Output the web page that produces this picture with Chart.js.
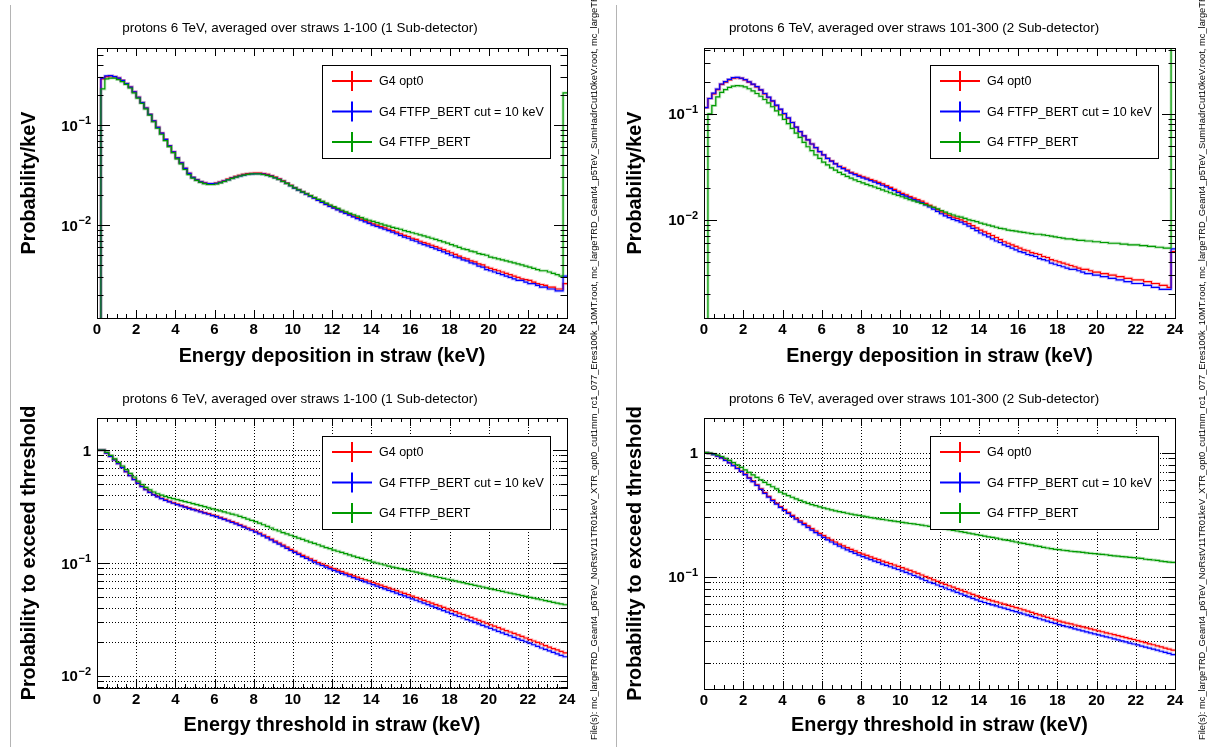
<!DOCTYPE html>
<html>
<head>
<meta charset="utf-8">
<script src="https://cdn.jsdelivr.net/npm/chart.js@4.4.0/dist/chart.umd.min.js"></script>
<style>
  body { margin: 0; background: #fff; width: 1224px; height: 747px; position: relative; overflow: hidden; }
  canvas { position: absolute; }
  .files { position: absolute; top: 740px; transform-origin: 0 0; transform: rotate(-90deg);
           white-space: nowrap; font: 9.3px "Liberation Sans", Arial, sans-serif; line-height: 9px; color: #000; }
  .padline { position: absolute; top: 5px; width: 1px; height: 742px; background: #b4b4b4; }
</style>
</head>
<body>
<div class="padline" style="left:10px"></div>
<div class="padline" style="left:616px"></div>
<canvas id="tl" width="606" height="373" style="left:0;top:0"></canvas>
<canvas id="tr" width="618" height="373" style="left:606px;top:0"></canvas>
<canvas id="bl" width="606" height="374" style="left:0;top:373px"></canvas>
<canvas id="br" width="618" height="374" style="left:606px;top:373px"></canvas>
<div class="files" style="left:590px">File(s): mc_largeTRD_Geant4_p6TeV_NoRstV11TR01keV_XTR_opt0_cut1mm_rc1_077_Eres100k_10MT.root, mc_largeTRD_Geant4_p5TeV_SumHadrCut10keV.root, mc_largeTRD_Geant4_p5TeV.root</div>
<div class="files" style="left:1198px">File(s): mc_largeTRD_Geant4_p6TeV_NoRstV11TR01keV_XTR_opt0_cut1mm_rc1_077_Eres100k_10MT.root, mc_largeTRD_Geant4_p5TeV_SumHadrCut10keV.root, mc_largeTRD_Geant4_p5TeV.root</div>
<script>
// 120 bins of 0.2 keV from 0 to 24 keV
const xMin = 0, xMax = 24, binWidth = 0.2;
const xTickValues = [0, 2, 4, 6, 8, 10, 12, 14, 16, 18, 20, 22, 24];
const legendNames = ['G4 opt0', 'G4 FTFP_BERT cut = 10 keV', 'G4 FTFP_BERT'];
const seriesColors = ['#ff0000', '#0000ff', '#009a00'];
const bandColors = ['rgba(255,0,0,0.22)', 'rgba(0,0,255,0.22)', 'rgba(0,154,0,0.22)'];

// ---- energy deposition, straws 1-100 ----
const depoOpt0_1 = [
  1e-5, 0.29, 0.305, 0.31, 0.305,  0.295, 0.28, 0.26, 0.24, 0.215,
  0.19, 0.168, 0.148, 0.128, 0.11,  0.095, 0.083, 0.072, 0.062, 0.054,
  0.047, 0.042, 0.037, 0.033, 0.030,  0.0285, 0.0272, 0.0265, 0.026, 0.026,
  0.0263, 0.027, 0.0278, 0.0288, 0.0298,  0.0307, 0.0315, 0.0322, 0.0327, 0.033,
  0.0332, 0.0332, 0.0328, 0.0322, 0.0313,  0.0302, 0.029, 0.0277, 0.0263, 0.025,
  0.0237, 0.0226, 0.0216, 0.0206, 0.0197,  0.0188, 0.0179, 0.0171, 0.0163, 0.0156,
  0.015, 0.0144, 0.0138, 0.0133, 0.0128,  0.0123, 0.0119, 0.0115, 0.0111, 0.0107,
  0.0103, 0.0100, 0.0097, 0.0094, 0.0091,  0.0088, 0.0085, 0.0082, 0.0079, 0.0077,
  0.0074, 0.0072, 0.0069, 0.0067, 0.0065,  0.0063, 0.0061, 0.0059, 0.0057, 0.0055,
  0.0053, 0.0051, 0.0049, 0.0047, 0.0046,  0.0044, 0.0043, 0.0041, 0.0040, 0.0038,
  0.0037, 0.0036, 0.0035, 0.0034, 0.0033,  0.0032, 0.0031, 0.0030, 0.0029, 0.00285,
  0.0028, 0.0027, 0.0026, 0.00255, 0.0025,  0.0024, 0.0024, 0.0023, 0.0023, 0.0026
];
const depoCut10_1 = [
  1e-5, 0.295, 0.31, 0.312, 0.305,  0.295, 0.28, 0.26, 0.24, 0.215,
  0.19, 0.168, 0.148, 0.128, 0.11,  0.095, 0.083, 0.072, 0.062, 0.054,
  0.047, 0.042, 0.037, 0.033, 0.030,  0.0284, 0.0271, 0.0264, 0.026, 0.026,
  0.0262, 0.0268, 0.0276, 0.0285, 0.0295,  0.0303, 0.031, 0.0317, 0.0322, 0.0325,
  0.0327, 0.0327, 0.0323, 0.0317, 0.0309,  0.0298, 0.0287, 0.0274, 0.0261, 0.0248,
  0.0235, 0.0224, 0.0214, 0.0204, 0.0195,  0.0186, 0.0177, 0.0169, 0.0161, 0.0154,
  0.0148, 0.0142, 0.0136, 0.0131, 0.0126,  0.0121, 0.0116, 0.0112, 0.0108, 0.0104,
  0.0100, 0.0097, 0.0094, 0.0091, 0.0088,  0.0085, 0.0082, 0.0079, 0.0076, 0.0074,
  0.0071, 0.0069, 0.0066, 0.0064, 0.0062,  0.0060, 0.0058, 0.0056, 0.0054, 0.0052,
  0.0050, 0.0048, 0.0047, 0.0045, 0.0044,  0.0042, 0.0041, 0.0039, 0.0038, 0.0036,
  0.0035, 0.0034, 0.0033, 0.0032, 0.0031,  0.0030, 0.0029, 0.0028, 0.0028, 0.0027,
  0.0026, 0.0026, 0.0025, 0.0024, 0.0024,  0.0023, 0.0023, 0.0022, 0.0022, 0.0031
];
const depoFtfp_1 = [
  1e-5, 0.23, 0.29, 0.295, 0.295,  0.285, 0.272, 0.255, 0.235, 0.21,
  0.186, 0.165, 0.145, 0.126, 0.108,  0.093, 0.081, 0.07, 0.061, 0.053,
  0.046, 0.041, 0.036, 0.032, 0.0295,  0.028, 0.0268, 0.026, 0.0255, 0.0255,
  0.0258, 0.0265, 0.0273, 0.0283, 0.0293,  0.0302, 0.031, 0.0317, 0.0322, 0.0325,
  0.0326, 0.0325, 0.0321, 0.0315, 0.0307,  0.0297, 0.0286, 0.0274, 0.0261, 0.0248,
  0.0236, 0.0225, 0.0215, 0.0206, 0.0197,  0.0189, 0.0181, 0.0173, 0.0166, 0.0159,
  0.0153, 0.0147, 0.0141, 0.0136, 0.0131,  0.0127, 0.0123, 0.0119, 0.0115, 0.0112,
  0.0109, 0.0106, 0.0103, 0.0100, 0.0098,  0.0095, 0.0093, 0.0091, 0.0088, 0.0086,
  0.0084, 0.0082, 0.0080, 0.0078, 0.0076,  0.0074, 0.0072, 0.0070, 0.0068, 0.0066,
  0.0064, 0.0062, 0.0060, 0.0058, 0.0057,  0.0055, 0.0054, 0.0052, 0.0051, 0.0050,
  0.0048, 0.0047, 0.0046, 0.0045, 0.0044,  0.0043, 0.0042, 0.0041, 0.0040, 0.0039,
  0.0038, 0.0037, 0.0036, 0.0035, 0.0035,  0.0034, 0.0033, 0.0032, 0.0031, 0.21
];

// ---- energy deposition, straws 101-300 ----
const depoOpt0_2 = [
  0.115, 0.14, 0.155, 0.17, 0.19,  0.20, 0.21, 0.218, 0.22, 0.217,
  0.21, 0.20, 0.19, 0.18, 0.168,  0.155, 0.143, 0.132, 0.12, 0.11,
  0.10, 0.091, 0.083, 0.075, 0.068,  0.062, 0.057, 0.052, 0.048, 0.044,
  0.041, 0.038, 0.036, 0.034, 0.032,  0.031, 0.0295, 0.028, 0.0272, 0.0263,
  0.0255, 0.0248, 0.024, 0.0233, 0.0226,  0.0218, 0.021, 0.0202, 0.0194, 0.0186,
  0.0178, 0.0172, 0.0166, 0.0160, 0.0155,  0.0150, 0.0143, 0.0137, 0.0131, 0.0125,
  0.0119, 0.0114, 0.0110, 0.0106, 0.0103,  0.0100, 0.0096, 0.0092, 0.0088, 0.0084,
  0.0080, 0.0077, 0.0074, 0.0071, 0.0068,  0.0065, 0.0062, 0.0060, 0.0058, 0.0056,
  0.0054, 0.0052, 0.0051, 0.0049, 0.0048,  0.0047, 0.0045, 0.0044, 0.0042, 0.0041,
  0.0040, 0.0039, 0.0038, 0.0037, 0.0036,  0.0035, 0.0034, 0.0034, 0.0033, 0.0032,
  0.0032, 0.0031, 0.0031, 0.0030, 0.0030,  0.0029, 0.0029, 0.0028, 0.0028, 0.0027,
  0.0027, 0.0027, 0.0026, 0.0026, 0.0025,  0.0025, 0.0024, 0.0024, 0.0023, 0.0050
];
const depoCut10_2 = [
  0.115, 0.14, 0.157, 0.172, 0.192,  0.202, 0.212, 0.22, 0.222, 0.218,
  0.211, 0.201, 0.191, 0.181, 0.169,  0.156, 0.144, 0.133, 0.121, 0.111,
  0.101, 0.092, 0.083, 0.075, 0.068,  0.062, 0.057, 0.052, 0.048, 0.044,
  0.041, 0.038, 0.0358, 0.0337, 0.0318,  0.0305, 0.029, 0.0276, 0.0267, 0.0257,
  0.0249, 0.0242, 0.0234, 0.0227, 0.022,  0.0212, 0.0205, 0.0197, 0.0189, 0.0181,
  0.0173, 0.0167, 0.0161, 0.0155, 0.015,  0.0145, 0.0138, 0.0132, 0.0126, 0.012,
  0.0114, 0.0109, 0.0105, 0.0101, 0.0098,  0.0095, 0.0091, 0.0087, 0.0083, 0.0079,
  0.0075, 0.0072, 0.0069, 0.0066, 0.0063,  0.0061, 0.0058, 0.0056, 0.0054, 0.0052,
  0.0050, 0.0049, 0.0047, 0.0046, 0.0045,  0.0043, 0.0042, 0.0041, 0.0039, 0.0038,
  0.0037, 0.0036, 0.0035, 0.0034, 0.0034,  0.0033, 0.0032, 0.0031, 0.0031, 0.0030,
  0.0030, 0.0029, 0.0029, 0.0028, 0.0028,  0.0027, 0.0027, 0.0026, 0.0026, 0.0025,
  0.0025, 0.0025, 0.0024, 0.0024, 0.0023,  0.0023, 0.0022, 0.0022, 0.0022, 0.0053
];
const depoFtfp_2 = [
  1e-5, 0.10, 0.12, 0.145, 0.16,  0.17, 0.178, 0.183, 0.185, 0.184,
  0.18, 0.173, 0.165, 0.156, 0.147,  0.137, 0.127, 0.117, 0.107, 0.098,
  0.089, 0.081, 0.073, 0.066, 0.06,  0.054, 0.049, 0.045, 0.041, 0.038,
  0.035, 0.033, 0.031, 0.0295, 0.028,  0.0268, 0.0257, 0.0247, 0.0238, 0.023,
  0.0223, 0.0216, 0.021, 0.0204, 0.0198,  0.0192, 0.0186, 0.018, 0.0175, 0.017,
  0.0165, 0.016, 0.0155, 0.0151, 0.0147,  0.0143, 0.0139, 0.0135, 0.0131, 0.0127,
  0.0122, 0.0118, 0.0114, 0.0111, 0.0108,  0.0106, 0.0103, 0.0100, 0.0098, 0.0096,
  0.0093, 0.0091, 0.0089, 0.0087, 0.0085,  0.0083, 0.0082, 0.0080, 0.0079, 0.0078,
  0.0077, 0.0076, 0.0075, 0.0074, 0.0073,  0.0073, 0.0072, 0.0071, 0.0070, 0.0069,
  0.0068, 0.0067, 0.0066, 0.0066, 0.0065,  0.0064, 0.0064, 0.0063, 0.0063, 0.0062,
  0.0062, 0.0061, 0.0061, 0.0060, 0.0060,  0.0060, 0.0059, 0.0059, 0.0058, 0.0058,
  0.0058, 0.0057, 0.0057, 0.0056, 0.0056,  0.0055, 0.0055, 0.0054, 0.0054, 1.0
];

// ---- probability to exceed threshold, straws 1-100 ----
const exceedOpt0_1 = [
  1.0, 1.0, 0.942, 0.881, 0.82,  0.76, 0.70, 0.645, 0.595, 0.55,
  0.51, 0.477, 0.448, 0.424, 0.404,  0.388, 0.374, 0.362, 0.351, 0.341,
  0.332, 0.323, 0.315, 0.307, 0.3,  0.293, 0.286, 0.279, 0.273, 0.266,
  0.26, 0.253, 0.246, 0.239, 0.232,  0.225, 0.218, 0.211, 0.204, 0.198,
  0.191, 0.184, 0.177, 0.17, 0.163,  0.156, 0.15, 0.144, 0.138, 0.132,
  0.127, 0.122, 0.117, 0.113, 0.109,  0.105, 0.101, 0.098, 0.095, 0.092,
  0.089, 0.0865, 0.084, 0.0815, 0.0792,  0.077, 0.0749, 0.0729, 0.0709, 0.069,
  0.0672, 0.0654, 0.0636, 0.0619, 0.0602,  0.0586, 0.057, 0.0554, 0.0539, 0.0524,
  0.0509, 0.0495, 0.0481, 0.0467, 0.0454,  0.0441, 0.0429, 0.0417, 0.0405, 0.0393,
  0.0382, 0.0371, 0.036, 0.035, 0.034,  0.033, 0.032, 0.0311, 0.0302, 0.0293,
  0.0284, 0.0276, 0.0268, 0.026, 0.0252,  0.0245, 0.0238, 0.0231, 0.0224, 0.0217,
  0.021, 0.0204, 0.0198, 0.0192, 0.0186,  0.018, 0.0175, 0.017, 0.0165, 0.016
];
const exceedCut10_1 = [
  1.0, 1.0, 0.94, 0.878, 0.816,  0.756, 0.697, 0.642, 0.592, 0.547,
  0.507, 0.474, 0.445, 0.421, 0.401,  0.385, 0.371, 0.359, 0.348, 0.338,
  0.329, 0.32, 0.312, 0.304, 0.297,  0.29, 0.283, 0.276, 0.27, 0.263,
  0.257, 0.25, 0.243, 0.236, 0.229,  0.222, 0.215, 0.208, 0.201, 0.195,
  0.188, 0.181, 0.174, 0.167, 0.16,  0.153, 0.147, 0.141, 0.135, 0.129,
  0.124, 0.119, 0.114, 0.11, 0.106,  0.102, 0.098, 0.095, 0.092, 0.089,
  0.0862, 0.0836, 0.0811, 0.0787, 0.0764,  0.0742, 0.0721, 0.0701, 0.0681, 0.0662,
  0.0643, 0.0625, 0.0607, 0.059, 0.0573,  0.0557, 0.0541, 0.0526, 0.0511, 0.0496,
  0.0482, 0.0468, 0.0454, 0.0441, 0.0428,  0.0415, 0.0403, 0.0391, 0.0379, 0.0368,
  0.0357, 0.0346, 0.0336, 0.0326, 0.0316,  0.0307, 0.0298, 0.0289, 0.028, 0.0272,
  0.0264, 0.0256, 0.0248, 0.0241, 0.0234,  0.0227, 0.022, 0.0213, 0.0207, 0.0201,
  0.0195, 0.0189, 0.0183, 0.0177, 0.0172,  0.0167, 0.0162, 0.0157, 0.0152, 0.0148
];
const exceedFtfp_1 = [
  1.0, 1.0, 0.954, 0.895, 0.836,  0.778, 0.722, 0.67, 0.62, 0.577,
  0.53, 0.495, 0.467, 0.444, 0.425,  0.41, 0.398, 0.388, 0.379, 0.371,
  0.364, 0.357, 0.35, 0.343, 0.336,  0.329, 0.322, 0.315, 0.308, 0.301,
  0.295, 0.289, 0.283, 0.277, 0.271,  0.266, 0.259, 0.252, 0.245, 0.238,
  0.232, 0.225, 0.218, 0.211, 0.204,  0.197, 0.192, 0.186, 0.181, 0.176,
  0.171, 0.166, 0.162, 0.157, 0.153,  0.149, 0.145, 0.141, 0.137, 0.134,
  0.13, 0.127, 0.124, 0.121, 0.118,  0.115, 0.112, 0.11, 0.107, 0.105,
  0.102, 0.1, 0.098, 0.096, 0.094,  0.092, 0.0905, 0.089, 0.0875, 0.086,
  0.0845, 0.083, 0.0815, 0.08, 0.0785,  0.077, 0.0757, 0.0744, 0.0731, 0.0718,
  0.0706, 0.0694, 0.0682, 0.067, 0.0658,  0.0646, 0.0635, 0.0624, 0.0613, 0.0602,
  0.0591, 0.0581, 0.0571, 0.0561, 0.0551,  0.0542, 0.0533, 0.0524, 0.0515, 0.0506,
  0.0497, 0.0489, 0.0481, 0.0473, 0.0465,  0.0457, 0.0449, 0.0441, 0.0434, 0.0427
];

// ---- probability to exceed threshold, straws 101-300 ----
const exceedOpt0_2 = [
  1.0, 0.985, 0.965, 0.94, 0.91,  0.87, 0.83, 0.79, 0.75, 0.71,
  0.67, 0.628, 0.588, 0.55, 0.511,  0.475, 0.443, 0.415, 0.39, 0.367,
  0.347, 0.329, 0.312, 0.296, 0.281,  0.269, 0.256, 0.244, 0.233, 0.223,
  0.214, 0.205, 0.197, 0.19, 0.183,  0.177, 0.171, 0.166, 0.161, 0.156,
  0.152, 0.148, 0.144, 0.14, 0.137,  0.133, 0.13, 0.127, 0.124, 0.121,
  0.118, 0.115, 0.112, 0.109, 0.106,  0.103, 0.1, 0.097, 0.094, 0.0915,
  0.089, 0.0866, 0.0843, 0.0821, 0.0799,  0.0778, 0.0757, 0.0737, 0.0718, 0.0699,
  0.068, 0.0666, 0.0652, 0.0638, 0.0625,  0.0612, 0.0599, 0.0586, 0.0574, 0.0562,
  0.055, 0.0538, 0.0526, 0.0514, 0.0502,  0.0491, 0.048, 0.0469, 0.0459, 0.0448,
  0.0438, 0.043, 0.0422, 0.0415, 0.0407,  0.04, 0.0393, 0.0386, 0.0379, 0.0372,
  0.0365, 0.0359, 0.0352, 0.0346, 0.034,  0.0334, 0.0328, 0.0322, 0.0316, 0.0311,
  0.0305, 0.0299, 0.0293, 0.0287, 0.0282,  0.0276, 0.0271, 0.0265, 0.026, 0.0255
];
const exceedCut10_2 = [
  1.0, 0.985, 0.963, 0.937, 0.906,  0.866, 0.826, 0.785, 0.744, 0.704,
  0.664, 0.622, 0.582, 0.544, 0.505,  0.469, 0.437, 0.409, 0.384, 0.361,
  0.341, 0.323, 0.306, 0.29, 0.275,  0.262, 0.249, 0.237, 0.226, 0.216,
  0.207, 0.198, 0.19, 0.183, 0.176,  0.17, 0.164, 0.159, 0.154, 0.149,
  0.145, 0.141, 0.137, 0.133, 0.13,  0.126, 0.123, 0.12, 0.117, 0.114,
  0.111, 0.108, 0.105, 0.102, 0.099,  0.096, 0.093, 0.09, 0.088, 0.0855,
  0.0832, 0.0809, 0.0787, 0.0766, 0.0745,  0.0725, 0.0705, 0.0686, 0.0667, 0.0649,
  0.0632, 0.0618, 0.0605, 0.0592, 0.058,  0.0568, 0.0556, 0.0544, 0.0532, 0.0521,
  0.051, 0.0499, 0.0488, 0.0477, 0.0467,  0.0457, 0.0447, 0.0437, 0.0428, 0.0419,
  0.041, 0.0402, 0.0394, 0.0387, 0.0379,  0.0372, 0.0365, 0.0358, 0.0351, 0.0345,
  0.0339, 0.0333, 0.0327, 0.0321, 0.0315,  0.0309, 0.0303, 0.0297, 0.0291, 0.0286,
  0.0281, 0.0275, 0.027, 0.0265, 0.026,  0.0255, 0.025, 0.0245, 0.024, 0.0235
];
const exceedFtfp_2 = [
  1.0, 0.99, 0.975, 0.955, 0.93,  0.9, 0.865, 0.83, 0.795, 0.76,
  0.725, 0.692, 0.66, 0.63, 0.602,  0.576, 0.552, 0.53, 0.51, 0.48,
  0.465, 0.45, 0.436, 0.423, 0.411,  0.4, 0.39, 0.381, 0.373, 0.365,
  0.358, 0.351, 0.345, 0.339, 0.334,  0.329, 0.324, 0.319, 0.315, 0.311,
  0.307, 0.303, 0.299, 0.296, 0.292,  0.289, 0.286, 0.283, 0.28, 0.277,
  0.274, 0.271, 0.268, 0.266, 0.263,  0.26, 0.257, 0.254, 0.251, 0.248,
  0.245, 0.242, 0.239, 0.236, 0.233,  0.23, 0.227, 0.224, 0.221, 0.218,
  0.215, 0.212, 0.209, 0.207, 0.204,  0.201, 0.198, 0.196, 0.193, 0.19,
  0.187, 0.185, 0.182, 0.18, 0.177,  0.175, 0.172, 0.17, 0.168, 0.166,
  0.165, 0.163, 0.162, 0.16, 0.159,  0.158, 0.157, 0.155, 0.154, 0.153,
  0.152, 0.151, 0.15, 0.148, 0.147,  0.146, 0.145, 0.144, 0.143, 0.142,
  0.141, 0.14, 0.138, 0.137, 0.136,  0.135, 0.133, 0.132, 0.131, 0.13
];

const FONT = '"Liberation Sans", Arial, Helvetica, sans-serif';

function histo(values) {
  const pts = values.map((v, i) => ({ x: xMin + i * binWidth, y: v }));
  pts.push({ x: xMax, y: values[values.length - 1] });
  return pts;
}

function logTicks(min, max) {
  const out = [];
  for (let e = Math.floor(Math.log10(min)); e <= Math.ceil(Math.log10(max)); e++) {
    for (let m = 1; m <= 9; m++) {
      const v = m * Math.pow(10, e);
      if (v >= min * 0.9999 && v <= max * 1.0001) out.push({ v: v, major: m === 1, exp: e });
    }
  }
  return out;
}

// ROOT-like frame, ticks, labels, legend and titles
function rootPlugin(cfg) {
  return {
    id: 'rootFrame',
    beforeDatasetsDraw(chart) {
      if (!cfg.grid) return;
      const { ctx, chartArea: a, scales: { x, y } } = chart;
      ctx.save();
      ctx.strokeStyle = '#000';
      ctx.lineWidth = 1;
      ctx.setLineDash([1, 2]);
      xTickValues.forEach(v => {
        if (v <= xMin || v >= xMax) return;
        const px = Math.round(x.getPixelForValue(v)) + 0.5;
        ctx.beginPath(); ctx.moveTo(px, a.top); ctx.lineTo(px, a.bottom); ctx.stroke();
      });
      logTicks(cfg.yMin, cfg.yMax).forEach(t => {
        const py = Math.round(y.getPixelForValue(t.v)) + 0.5;
        ctx.beginPath(); ctx.moveTo(a.left, py); ctx.lineTo(a.right, py); ctx.stroke();
      });
      ctx.restore();
    },
    afterDatasetsDraw(chart) {
      const { ctx, chartArea: a, scales: { x, y } } = chart;
      ctx.save();
      ctx.strokeStyle = '#000';
      ctx.fillStyle = '#000';
      ctx.lineWidth = 1;
      // frame
      ctx.strokeRect(Math.round(a.left) + 0.5, Math.round(a.top) + 0.5,
                     Math.round(a.right - a.left), Math.round(a.bottom - a.top));
      // x ticks (bottom and top)
      for (let v = xMin; v <= xMax + 1e-9; v += 0.5) {
        const major = Math.abs(v / 2 - Math.round(v / 2)) < 1e-9;
        const len = major ? 8 : 4;
        const px = Math.round(x.getPixelForValue(v)) + 0.5;
        ctx.beginPath();
        ctx.moveTo(px, a.bottom); ctx.lineTo(px, a.bottom - len);
        ctx.moveTo(px, a.top); ctx.lineTo(px, a.top + len);
        ctx.stroke();
      }
      // x labels
      ctx.font = 'bold 15px ' + FONT;
      ctx.textAlign = 'center';
      ctx.textBaseline = 'alphabetic';
      xTickValues.forEach(v => {
        ctx.fillText(String(v), x.getPixelForValue(v), a.bottom + 16);
      });
      // y ticks (left and right)
      logTicks(cfg.yMin, cfg.yMax).forEach(t => {
        const len = t.major ? 13 : 6.5;
        const py = Math.round(y.getPixelForValue(t.v)) + 0.5;
        ctx.beginPath();
        ctx.moveTo(a.left, py); ctx.lineTo(a.left + len, py);
        ctx.moveTo(a.right, py); ctx.lineTo(a.right - len, py);
        ctx.stroke();
        if (t.major) {
          const py2 = y.getPixelForValue(t.v);
          const right = a.left - 6;
          if (t.exp === 0) {
            ctx.font = 'bold 15px ' + FONT;
            ctx.textAlign = 'right';
            ctx.fillText('1', right, py2 + 5.5);
          } else {
            const sup = '\u2212' + Math.abs(t.exp);
            ctx.font = 'bold 11px ' + FONT;
            const wSup = ctx.measureText(sup).width;
            ctx.textAlign = 'right';
            ctx.fillText(sup, right, py2 - 1);
            ctx.font = 'bold 15px ' + FONT;
            ctx.fillText('10', right - wSup - 0.5, py2 + 5.5);
          }
        }
      });
      // titles
      ctx.font = '13.4px ' + FONT;
      ctx.textAlign = 'center';
      ctx.fillText(cfg.title, cfg.titleX, cfg.titleY);
      ctx.font = 'bold 19.8px ' + FONT;
      ctx.fillText(cfg.xTitle, (a.left + a.right) / 2, cfg.xTitleY);
      ctx.save();
      ctx.translate(35, (a.top + a.bottom) / 2);
      ctx.rotate(-Math.PI / 2);
      ctx.fillText(cfg.yTitle, 0, 0);
      ctx.restore();
      // legend
      const L = cfg.legend;
      ctx.fillStyle = '#fff';
      ctx.fillRect(L.x, L.y, L.w, L.h);
      ctx.strokeStyle = '#000';
      ctx.strokeRect(L.x + 0.5, L.y + 0.5, L.w, L.h);
      ctx.font = '12.5px ' + FONT;
      ctx.textAlign = 'left';
      ctx.textBaseline = 'middle';
      legendNames.forEach((name, i) => {
        const ey = L.y + 16 + i * 30.5;
        ctx.strokeStyle = seriesColors[i];
        ctx.lineWidth = 2;
        ctx.beginPath();
        ctx.moveTo(L.x + 10, ey); ctx.lineTo(L.x + 50, ey);
        ctx.moveTo(L.x + 30, ey - 10); ctx.lineTo(L.x + 30, ey + 10);
        ctx.stroke();
        ctx.fillStyle = '#000';
        ctx.fillText(name, L.x + 57, ey + 1);
      });
      ctx.restore();
    }
  };
}

function makePanel(id, cfg, series) {
  const datasets = [];
  series.forEach((vals, i) => {
    datasets.push({ data: histo(vals), borderColor: bandColors[i], borderWidth: 3,
                    stepped: 'before', pointRadius: 0, fill: false, clip: 0, order: 10 - i });
  });
  series.forEach((vals, i) => {
    datasets.push({ data: histo(vals), borderColor: seriesColors[i], borderWidth: 1.2,
                    stepped: 'before', pointRadius: 0, fill: false, clip: 0, order: 3 - i });
  });
  return new Chart(document.getElementById(id), {
    type: 'line',
    data: { datasets: datasets },
    options: {
      responsive: false,
      animation: false,
      events: [],
      layout: { padding: cfg.padding },
      plugins: { legend: { display: false }, tooltip: { enabled: false } },
      scales: {
        x: { type: 'linear', min: xMin, max: xMax, display: false },
        y: { type: 'logarithmic', min: cfg.yMin, max: cfg.yMax, display: false }
      }
    },
    plugins: [rootPlugin(cfg)]
  });
}

makePanel('tl', {
  title: 'protons 6 TeV, averaged over straws 1-100 (1 Sub-detector)', titleX: 300, titleY: 32,
  xTitle: 'Energy deposition in straw (keV)', xTitleY: 362, yTitle: 'Probability/keV',
  yMin: 0.00118, yMax: 0.59, grid: false,
  padding: { left: 97, top: 48, right: 39, bottom: 55 },
  legend: { x: 322, y: 65, w: 228, h: 93 }
}, [depoOpt0_1, depoCut10_1, depoFtfp_1]);

makePanel('tr', {
  title: 'protons 6 TeV, averaged over straws 101-300 (2 Sub-detector)', titleX: 308, titleY: 32,
  xTitle: 'Energy deposition in straw (keV)', xTitleY: 362, yTitle: 'Probability/keV',
  yMin: 0.00118, yMax: 0.42, grid: false,
  padding: { left: 98, top: 48, right: 49, bottom: 55 },
  legend: { x: 324, y: 65, w: 228, h: 93 }
}, [depoOpt0_2, depoCut10_2, depoFtfp_2]);

makePanel('bl', {
  title: 'protons 6 TeV, averaged over straws 1-100 (1 Sub-detector)', titleX: 300, titleY: 30,
  xTitle: 'Energy threshold in straw (keV)', xTitleY: 358, yTitle: 'Probability to exceed threshold',
  yMin: 0.00783, yMax: 1.92, grid: true,
  padding: { left: 97, top: 45, right: 39, bottom: 59 },
  legend: { x: 322, y: 63, w: 228, h: 93 }
}, [exceedOpt0_1, exceedCut10_1, exceedFtfp_1]);

makePanel('br', {
  title: 'protons 6 TeV, averaged over straws 101-300 (2 Sub-detector)', titleX: 308, titleY: 30,
  xTitle: 'Energy threshold in straw (keV)', xTitleY: 358, yTitle: 'Probability to exceed threshold',
  yMin: 0.0124, yMax: 1.9, grid: true,
  padding: { left: 98, top: 45, right: 49, bottom: 58 },
  legend: { x: 324, y: 63, w: 228, h: 93 }
}, [exceedOpt0_2, exceedCut10_2, exceedFtfp_2]);
</script>
</body>
</html>
